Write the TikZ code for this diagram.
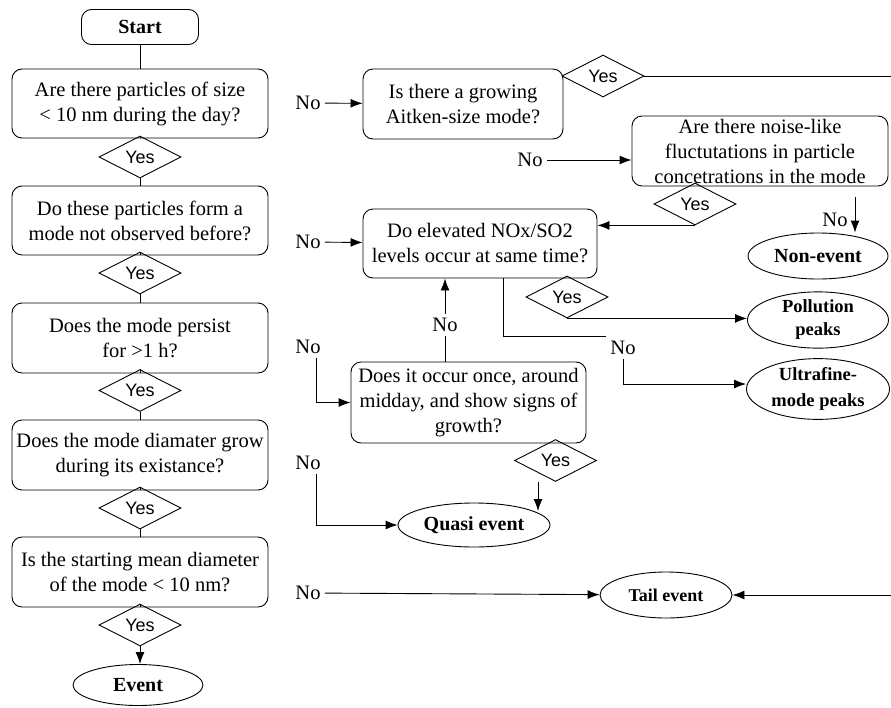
\documentclass[tikz,border=0pt]{standalone}
\usepackage{fontspec}
\setmainfont{Liberation Serif}
\newfontfamily\yesfont{Liberation Sans}
\usetikzlibrary{shapes.geometric,arrows.meta}

\begin{document}
\begin{tikzpicture}[x=1pt,y=-1pt,line width=0.9pt,
  font=\fontsize{20.5}{25}\selectfont,
  qbox/.style={draw, rounded corners=10pt, align=center, inner sep=1pt},
  yesd/.style={draw, diamond, minimum width=82pt, minimum height=34pt, inner sep=0pt, font=\yesfont\fontsize{18}{18}\selectfont},
  endo/.style={draw, ellipse, align=center, inner sep=0pt, font=\bfseries\fontsize{20}{23}\selectfont},
  nolab/.style={inner sep=4pt},
  arr/.style={-{Latex[length=12pt,width=9pt]}}]
        \useasboundingbox (0,0) rectangle (891,707);
        % main column
        \node[qbox, minimum width=117pt, minimum height=35pt, font=\bfseries\fontsize{20}{25}\selectfont] (start) at (140,27) {Start};
        \node[qbox, minimum width=256pt, minimum height=69pt] (q1) at (140,103.5) {Are there particles of size\\< 10 nm during the day?};
        \node[yesd] (y1) at (140,157) {Yes};
        \node[qbox, minimum width=256pt, minimum height=69pt] (q2) at (140,220.5) {Do these particles form a\\mode not observed before?};
        \node[yesd] (y2) at (140,273) {Yes};
        \node[qbox, minimum width=256pt, minimum height=70pt] (q3) at (140,338) {Does the mode persist\\for >1 h?};
        \node[yesd] (y3) at (140,390.5) {Yes};
        \node[qbox, minimum width=256pt, minimum height=70pt] (q4) at (140,455) {Does the mode diamater grow\\during its existance?};
        \node[yesd] (y4) at (140,508) {Yes};
        \node[qbox, minimum width=256pt, minimum height=70pt] (q5) at (140,572) {Is the starting mean diameter\\of the mode < 10 nm?};
        \node[yesd] (y5) at (140,625) {Yes};
        \node[endo, minimum width=130pt, minimum height=41pt] (event) at (138,685) {Event};
        \draw (start) -- (q1);
        \draw (q1) -- (y1);
        \draw (y1) -- (q2);
        \draw (q2) -- (y2);
        \draw (y2) -- (q3);
        \draw (q3) -- (y3);
        \draw (y3) -- (q4);
        \draw (q4) -- (y4);
        \draw (y4) -- (q5);
        \draw (q5) -- (y5);
        \draw[arr] (y5.south) -- (y5.south |- event.north);
        % right part
        \node[nolab] (noA) at (308,103) {No};
        \node[qbox, minimum width=200pt, minimum height=70pt] (aitken) at (463,104) {Is there a growing\\Aitken-size mode?};
        \node[yesd] (yA) at (603,76) {Yes};
        \coordinate (edgeTop) at (891,76);
        \node[nolab] (noM) at (530,160) {No};
        \node[qbox, minimum width=256pt, minimum height=70pt] (noise) at (760,151) {Are there noise-like\\fluctutations in particle\\concetrations in the mode};
        \node[yesd] (yN) at (695,204) {Yes};
        \node[nolab] (noN) at (835,220) {No};
        \coordinate (nTop) at (855,197);
        \node[endo, minimum width=140pt, minimum height=46pt] (nonev) at (818,256) {Non-event};
        \node[nolab] (noB) at (308,242) {No};
        \node[qbox, minimum width=234pt, minimum height=69pt] (elev) at (480,243.5) {Do elevated NOx/SO2\\levels occur at same time?};
        \node[yesd] (yE) at (567,297) {Yes};
        \node[endo, minimum width=141pt, minimum height=55pt, font=\bfseries\fontsize{18.5}{23}\selectfont] (poll) at (818,320) {Pollution\\peaks};
        \coordinate (xU) at (503,0);
        \node[nolab] (noU) at (623,348) {No};
        \node[endo, minimum width=143pt, minimum height=59pt, font=\bfseries\fontsize{18.5}{26}\selectfont] (ultra) at (818,389) {Ultrafine-\\mode peaks};
        \node[nolab] (noQ) at (445,325) {No};
        \node[nolab] (noC) at (308,347) {No};
        \node[qbox, minimum width=235pt, minimum height=81pt] (occur) at (468.5,402.5) {Does it occur once, around\\midday, and show signs of\\growth?};
        \node[yesd] (yO) at (555.5,460.5) {Yes};
        \coordinate (qTip) at (538,511);
        \node[nolab] (noD) at (308,463) {No};
        \node[endo, minimum width=152pt, minimum height=44pt] (quasi) at (474,525) {Quasi event};
        \node[nolab] (noE) at (308,593) {No};
        \node[endo, minimum width=132pt, minimum height=46pt, font=\bfseries\fontsize{18}{22}\selectfont] (tail) at (666,595) {Tail event};
        \coordinate (edgeBot) at (891,595);
        \draw[arr] (noA) -- (aitken);
        \draw (yA.east) -- (yA.east -| edgeTop);
        \draw[arr] (noM) -- (noM -| noise.west);
        \draw[arr] (yN.south) -- (yN.south -| elev.east);
        \draw[arr] (nTop) -- (nTop |- nonev.north);
        \draw[arr] (noB) -- (elev);
        \draw[arr] (yE.south) -- (yE.south -| poll.west);
        \draw (elev.south -| xU) |- (noU.north west);
        \draw[arr] (noU.south) |- ([yshift=5pt]ultra.west);
        \draw[arr] (noQ) -- (elev.south -| noQ);
        \draw (occur.north -| noQ) -- (noQ);
        \draw[arr] ([xshift=8pt]noC.south) |- (occur.west);
        \draw[arr] (yO.south -| qTip) -- (qTip);
        \draw[arr] ([xshift=8pt]noD.south) |- (quasi.west);
        \draw[arr] (noE) -- (tail);
        \draw[arr] (edgeBot) -- (tail);
    \end{tikzpicture}
\end{document}
